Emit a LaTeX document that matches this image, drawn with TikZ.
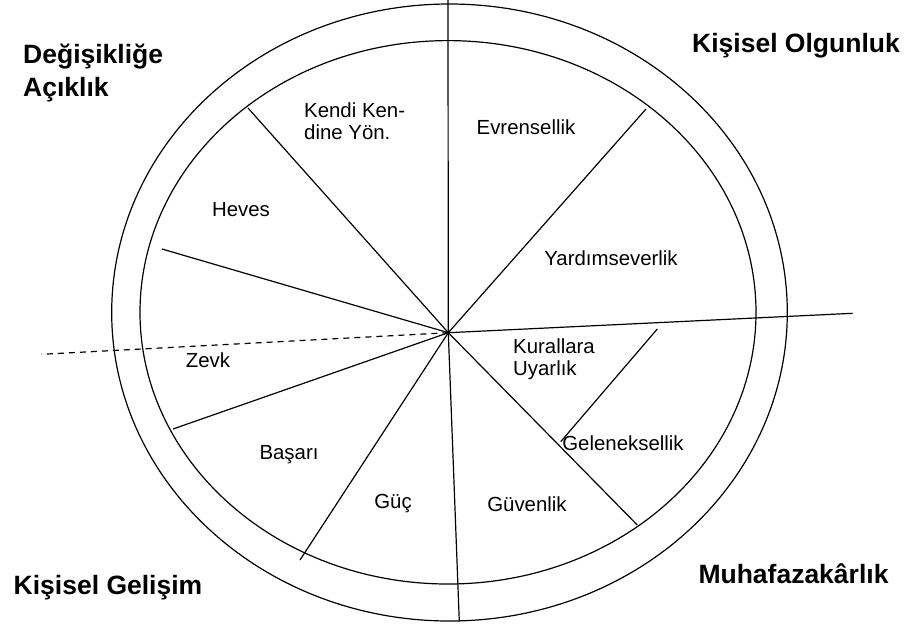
\documentclass[tikz,border=0pt]{standalone}
\usepackage{fontspec}
\setmainfont{Liberation Sans}
\usepackage{tikz}
\usetikzlibrary{positioning}

\begin{document}
\begin{tikzpicture}[
  x=1pt, y=-1pt,
  ring/.style={line width=1.2pt},
  spoke/.style={line width=1.2pt},
  value/.style={inner sep=0pt, font=\fontsize{20.4}{22}\selectfont, align=left},
  quad/.style={inner sep=0pt, font=\bfseries\fontsize{26.5}{33}\selectfont, align=left},
  ]
  \useasboundingbox (0,0) rectangle (908,625);

  % two rings
  \draw[ring] (449.5,312.5) ellipse [x radius=337.8, y radius=308.5];
  \draw[ring] (448,312.3) ellipse [x radius=308, y radius=271.7];

  % hub and spoke ends
  \coordinate (hub) at (448.3,332.7);
  \coordinate (top)    at (448,0);
  \coordinate (bottom) at (459.3,621.5);
  \coordinate (east)   at (852.7,313.3);
  \coordinate (west)   at (41.7,354.3);
  \coordinate (kh) at (248,108);
  \coordinate (hz) at (162,249);
  \coordinate (zb) at (173,429);
  \coordinate (bg) at (300,560);
  \coordinate (gg) at (637.3,525);
  \coordinate (ey) at (646,109);
  \coordinate (ku) at (657.3,329);
  \coordinate (ge) at (560.7,441.7);

  \draw[spoke] (hub) -- (top);
  \draw[spoke] (hub) -- (bottom);
  \draw[spoke] (hub) -- (east);
  \draw[spoke, dashed, dash pattern=on 6pt off 5pt] (hub) -- (west);
  \draw[spoke] (hub) -- (kh);
  \draw[spoke] (hub) -- (hz);
  \draw[spoke] (hub) -- (zb);
  \draw[spoke] (hub) -- (bg);
  \draw[spoke] (hub) -- (gg);
  \draw[spoke] (hub) -- (ey);
  \draw[spoke] (ku) -- (ge);

  % values
  \node[value, anchor=west] (kendi) at (304,121) {Kendi Ken-\\dine Yön.};
  \node[value] (evren) at (526,127) {Evrensellik};
  \node[value] (heves) at (241,210) {Heves};
  \node[value] (yardim) at (611,258) {Yardımseverlik};
  \node[value] (zevk) at (208,360) {Zevk};
  \node[value] (basari) at (289,455) {Başarı};
  \node[value] (guc) at (393,504) {Güç};
  \node[value, anchor=west] (kural) at (513,359) {Kurallara\\Uyarlık};
  \node[value] (gelenek) at (623,443) {Geleneksellik};
  \node[value] (guven) at (527,504) {Güvenlik};

  % quadrant titles
  \node[quad, anchor=west] (acik) at (23,73) {Değişikliğe\\Açıklık};
  \node[quad] (olgun) at (796,46) {Kişisel Olgunluk};
  \node[quad] (gelis) at (108,588) {Kişisel Gelişim};
  \node[quad] (muhaf) at (793.5,574) {Muhafazakârlık};
\end{tikzpicture}
\end{document}
